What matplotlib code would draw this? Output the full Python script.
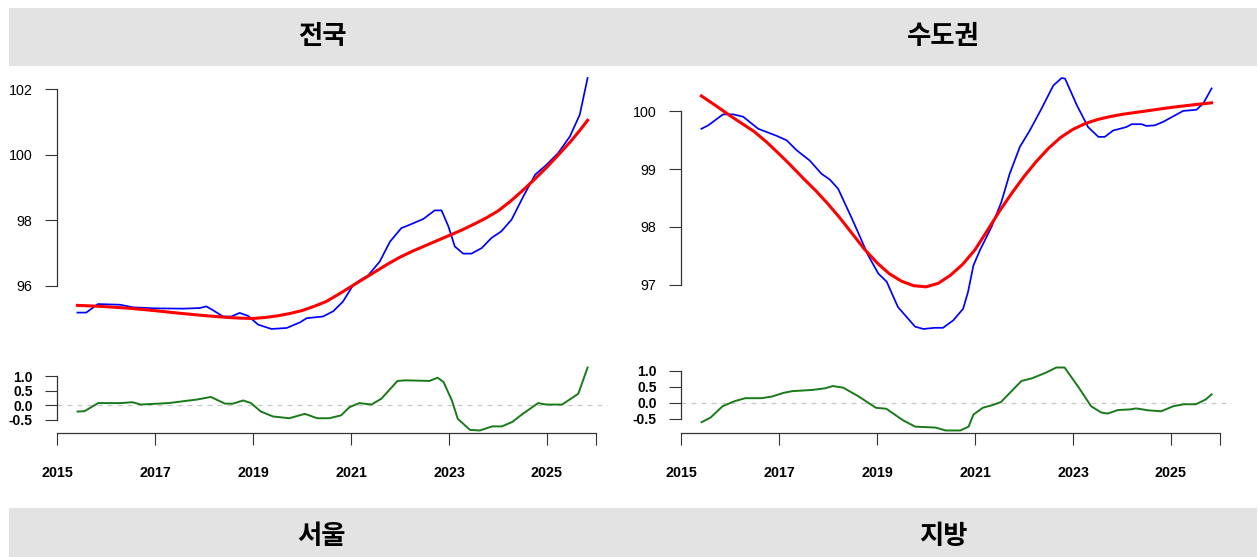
import matplotlib.pyplot as plt
from matplotlib.patches import Rectangle

plt.rcParams['font.family'] = ['Liberation Sans', 'Noto Sans CJK KR', 'DejaVu Sans']

# 전국: 실제 지수(파랑), 추세(빨강), 순환(초록)
nat_x = [2015.42, 2015.60, 2015.84, 2016.29, 2016.56, 2017.00, 2017.58, 2017.92, 2018.05,
         2018.19, 2018.39, 2018.56, 2018.73, 2018.90, 2019.11, 2019.38, 2019.69, 2019.96,
         2020.10, 2020.43, 2020.64, 2020.84, 2021.05, 2021.22, 2021.35, 2021.59, 2021.80,
         2022.03, 2022.20, 2022.48, 2022.71, 2022.85, 2022.99, 2023.12, 2023.29, 2023.46,
         2023.67, 2023.87, 2024.07, 2024.28, 2024.52, 2024.76, 2024.99, 2025.23, 2025.47,
         2025.67, 2025.83]
nat_actual = [95.18, 95.18, 95.44, 95.42, 95.34, 95.31, 95.30, 95.32, 95.37,
              95.25, 95.06, 95.06, 95.17, 95.08, 94.81, 94.68, 94.71, 94.88,
              95.01, 95.06, 95.22, 95.52, 96.03, 96.20, 96.31, 96.74, 97.35,
              97.76, 97.86, 98.04, 98.30, 98.30, 97.81, 97.20, 96.98, 96.98,
              97.15, 97.46, 97.66, 98.02, 98.73, 99.39, 99.69, 100.05, 100.56,
              101.22, 102.34]
nat_trend_x = [2015.42, 2015.75, 2016.0, 2016.25, 2016.5, 2016.75, 2017.0, 2017.25, 2017.5,
               2017.75, 2018.0, 2018.25, 2018.5, 2018.75, 2019.0, 2019.25, 2019.5, 2019.75,
               2020.0, 2020.25, 2020.5, 2020.75, 2021.0, 2021.25, 2021.5, 2021.75, 2022.0,
               2022.25, 2022.5, 2022.75, 2023.0, 2023.25, 2023.5, 2023.75, 2024.0, 2024.25,
               2024.5, 2024.75, 2025.0, 2025.25, 2025.5, 2025.67, 2025.83]
nat_trend = [95.40, 95.38, 95.36, 95.335, 95.31, 95.275, 95.24, 95.20, 95.16,
             95.125, 95.09, 95.06, 95.03, 95.01, 95.00, 95.03, 95.08, 95.15,
             95.24, 95.37, 95.52, 95.74, 95.97, 96.20, 96.43, 96.66, 96.87,
             97.05, 97.21, 97.37, 97.53, 97.69, 97.87, 98.06, 98.28, 98.57,
             98.90, 99.25, 99.62, 100.02, 100.43, 100.74, 101.05]
nat_cycle_x = [2015.42, 2015.56, 2015.84, 2016.30, 2016.54, 2016.71, 2017.28, 2017.61, 2017.85,
               2018.14, 2018.43, 2018.59, 2018.80, 2018.96, 2019.16, 2019.41, 2019.74, 2020.06,
               2020.31, 2020.56, 2020.80, 2020.97, 2021.17, 2021.42, 2021.62, 2021.95, 2022.11,
               2022.60, 2022.77, 2022.89, 2023.06, 2023.18, 2023.43, 2023.63, 2023.88, 2024.08,
               2024.29, 2024.49, 2024.82, 2024.98, 2025.31, 2025.64, 2025.83]
nat_cycle = [-0.21, -0.20, 0.08, 0.08, 0.11, 0.03, 0.08, 0.15, 0.20,
             0.29, 0.06, 0.06, 0.17, 0.08, -0.21, -0.38, -0.44, -0.29,
             -0.44, -0.44, -0.34, -0.06, 0.08, 0.03, 0.23, 0.84, 0.86,
             0.84, 0.95, 0.80, 0.17, -0.46, -0.84, -0.86, -0.72, -0.72,
             -0.57, -0.31, 0.08, 0.03, 0.03, 0.40, 1.30]

# 수도권
cap_x = [2015.42, 2015.56, 2015.86, 2016.07, 2016.27, 2016.58, 2016.95, 2017.16, 2017.36,
         2017.63, 2017.87, 2018.04, 2018.21, 2018.52, 2018.82, 2019.03, 2019.20, 2019.43,
         2019.78, 2019.95, 2020.18, 2020.35, 2020.56, 2020.76, 2020.86, 2020.97, 2021.10,
         2021.34, 2021.54, 2021.71, 2021.92, 2022.12, 2022.36, 2022.60, 2022.77, 2022.84,
         2023.08, 2023.31, 2023.52, 2023.65, 2023.82, 2024.09, 2024.20, 2024.40, 2024.50,
         2024.67, 2024.84, 2025.12, 2025.25, 2025.52, 2025.66, 2025.83]
cap_actual = [99.70, 99.76, 99.95, 99.95, 99.91, 99.70, 99.58, 99.50, 99.33,
              99.15, 98.92, 98.82, 98.66, 98.09, 97.51, 97.19, 97.05, 96.61,
              96.27, 96.23, 96.25, 96.25, 96.38, 96.58, 96.87, 97.33, 97.59,
              98.00, 98.43, 98.92, 99.39, 99.67, 100.05, 100.45, 100.58, 100.57,
              100.11, 99.73, 99.56, 99.56, 99.67, 99.73, 99.78, 99.78, 99.75,
              99.76, 99.82, 99.95, 100.01, 100.03, 100.14, 100.40]
cap_trend_x = [2015.42, 2015.75, 2016.0, 2016.25, 2016.5, 2016.75, 2017.0, 2017.25, 2017.5,
               2017.75, 2018.0, 2018.25, 2018.5, 2018.75, 2019.0, 2019.25, 2019.5, 2019.75,
               2020.0, 2020.25, 2020.5, 2020.75, 2021.0, 2021.25, 2021.5, 2021.75, 2022.0,
               2022.25, 2022.5, 2022.75, 2023.0, 2023.25, 2023.5, 2023.75, 2024.0, 2024.5,
               2025.0, 2025.5, 2025.83]
cap_trend = [100.27, 100.08, 99.93, 99.79, 99.65, 99.47, 99.27, 99.06, 98.84,
             98.63, 98.40, 98.15, 97.88, 97.61, 97.38, 97.19, 97.06, 96.98,
             96.96, 97.02, 97.16, 97.35, 97.60, 97.93, 98.27, 98.58, 98.87,
             99.13, 99.36, 99.55, 99.69, 99.79, 99.86, 99.91, 99.95, 100.01,
             100.07, 100.12, 100.15]
cap_cycle_x = [2015.42, 2015.60, 2015.85, 2016.10, 2016.31, 2016.64, 2016.85, 2017.10, 2017.27,
               2017.69, 2017.94, 2018.10, 2018.31, 2018.61, 2018.82, 2018.98, 2019.19, 2019.53,
               2019.78, 2020.20, 2020.40, 2020.70, 2020.87, 2020.97, 2021.16, 2021.37, 2021.53,
               2021.95, 2022.16, 2022.45, 2022.66, 2022.83, 2023.12, 2023.37, 2023.58, 2023.71,
               2023.92, 2024.17, 2024.29, 2024.54, 2024.80, 2025.05, 2025.26, 2025.51, 2025.71,
               2025.83]
cap_cycle = [-0.61, -0.47, -0.11, 0.05, 0.14, 0.14, 0.19, 0.31, 0.36,
             0.40, 0.45, 0.52, 0.47, 0.21, 0.00, -0.16, -0.19, -0.55,
             -0.75, -0.78, -0.87, -0.87, -0.75, -0.37, -0.16, -0.07, 0.02,
             0.68, 0.76, 0.94, 1.10, 1.10, 0.47, -0.11, -0.31, -0.34,
             -0.23, -0.21, -0.18, -0.24, -0.27, -0.11, -0.05, -0.05, 0.10,
             0.26]

top_titles = ['전국', '수도권']
bottom_titles = ['서울', '지방']
main_ticks = [[96, 98, 100, 102], [97, 98, 99, 100]]
cycle_ticks = [-0.5, 0.0, 0.5, 1.0]
year_ticks = [2015, 2017, 2019, 2021, 2023, 2025, 2026]
year_labels = ['2015', '2017', '2019', '2021', '2023', '2025', '']

panels = [
    (nat_x, nat_actual, nat_trend_x, nat_trend, nat_cycle_x, nat_cycle),
    (cap_x, cap_actual, cap_trend_x, cap_trend, cap_cycle_x, cap_cycle),
]

W, H = 1260, 557
fig = plt.figure(figsize=(W / 100, H / 100), dpi=100)

# 배경: 회색 제목 띠
bg = fig.add_axes([0, 0, 1, 1], zorder=-1)
bg.set_xlim(0, W)
bg.set_ylim(H, 0)
bg.axis('off')
for y0, y1 in [(8, 66), (508, 566)]:
    bg.add_patch(Rectangle((9, y0), 1248, y1 - y0, color='#e3e3e3', lw=0))
for cx, t in zip([322, 943], top_titles):
    bg.text(cx, 37, t, ha='center', va='center', fontsize=19, fontweight='bold',
            family='Noto Sans CJK KR')
for cx, t in zip([322, 943], bottom_titles):
    bg.text(cx, 536, t, ha='center', va='center', fontsize=19, fontweight='bold',
            family='Noto Sans CJK KR')


def px_axes(x0, y0, x1, y1):
    return fig.add_axes([x0 / W, 1 - y1 / H, (x1 - x0) / W, (y1 - y0) / H])


def r_lim(vals):
    lo, hi = min(vals), max(vals)
    pad = 0.04 * (hi - lo)
    return lo - pad, hi + pad


axis_col = '#333333'
tick_len = 12 * 0.72

for i, (ax_x, act, tr_x, tr, cy_x, cy) in enumerate(panels):
    left = 57 + i * 624
    right = left + 551
    xlim = r_lim(ax_x + tr_x + cy_x)

    ax = px_axes(left, 68, right, 339)
    ax.plot(ax_x, act, color='#0000ff', lw=1.25)
    ax.plot(tr_x, tr, color='#ff0000', lw=2.2)
    ax.set_xlim(xlim)
    ax.set_ylim(r_lim(act + tr))
    for s in ['top', 'right', 'bottom']:
        ax.spines[s].set_visible(False)
    ax.spines['left'].set_bounds(main_ticks[i][0], main_ticks[i][-1])
    ax.spines['left'].set_color(axis_col)
    ax.spines['left'].set_linewidth(0.9)
    ax.set_xticks([])
    ax.set_yticks(main_ticks[i])
    ax.set_yticklabels([str(v) for v in main_ticks[i]])
    ax.tick_params(axis='y', length=tick_len, width=0.8, color=axis_col, pad=9,
                   labelsize=10.3)
    ax.patch.set_alpha(0)

    cax = px_axes(left, 365, right, 433)
    cax.axhline(0, color='#c8c8c8', lw=0.9, ls=(0, (4, 4)))
    cax.plot(cy_x, cy, color='#1a7a1a', lw=1.4)
    cax.set_xlim(xlim)
    cax.set_ylim(r_lim(cy))
    for s in ['top', 'right']:
        cax.spines[s].set_visible(False)
    cax.spines['left'].set_bounds(cycle_ticks[0], cycle_ticks[-1])
    cax.spines['bottom'].set_bounds(year_ticks[0], year_ticks[-1])
    for s in ['left', 'bottom']:
        cax.spines[s].set_color(axis_col)
        cax.spines[s].set_linewidth(0.9)
    cax.set_yticks(cycle_ticks)
    cax.set_yticklabels(['%.1f' % v for v in cycle_ticks], fontweight='bold')
    cax.set_xticks(year_ticks)
    cax.set_xticklabels(year_labels, fontweight='bold')
    cax.tick_params(axis='y', length=tick_len, width=0.8, color=axis_col, pad=9,
                    labelsize=10)
    cax.tick_params(axis='x', length=tick_len, width=0.8, color=axis_col, pad=15,
                    labelsize=10.3)
    cax.patch.set_alpha(0)

fig.savefig('out.png', dpi=100)
